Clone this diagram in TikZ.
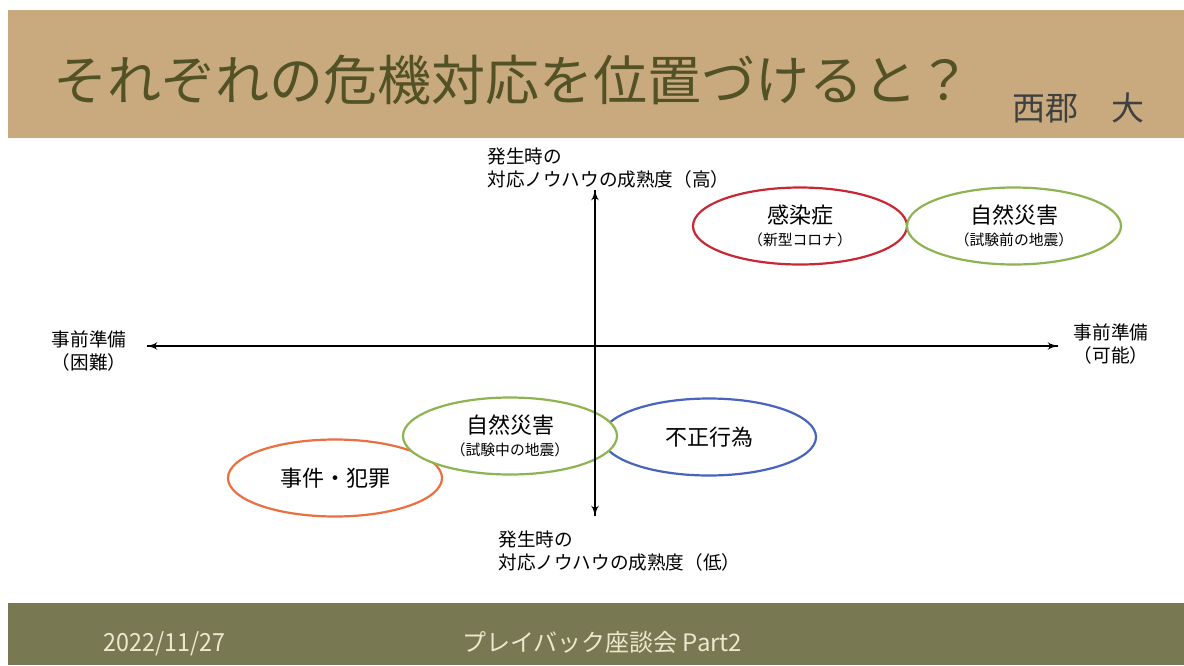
\documentclass[tikz,border=0pt]{standalone}
\usepackage{fontspec}
\setmainfont{Noto Sans CJK JP}
\usetikzlibrary{arrows,shapes.geometric}
\definecolor{bandtan}{RGB}{201,170,127}
\definecolor{titleolive}{RGB}{82,82,38}
\definecolor{footolive}{RGB}{120,120,82}
\definecolor{foottext}{RGB}{236,232,204}
\definecolor{ringred}{RGB}{200,40,52}
\definecolor{ringgreen}{RGB}{142,180,82}
\definecolor{ringorange}{RGB}{234,112,64}
\definecolor{ringblue}{RGB}{72,100,190}
\tikzset{
    ring/.style={ellipse, draw, line width=1.1pt, fill=white,
        minimum width=214pt*0.5, minimum height=77pt*0.5, inner sep=0pt, align=center},
    axislabel/.style={align=left, font=\fontsize{9.3}{11.5}\selectfont, inner sep=0pt},
    sidelabel/.style={align=center, font=\fontsize{9.3}{11.5}\selectfont, inner sep=0pt}
}
\newcommand{\mainword}[1]{{\fontsize{11}{13}\selectfont #1}}
\newcommand{\subword}[1]{{\fontsize{7.4}{9}\selectfont #1}}

\begin{document}
\begin{tikzpicture}[x=0.5pt, y=-0.5pt]
    \useasboundingbox [fill=white] (0, 0) rectangle (1184, 665);
    % header and footer
    \fill [bandtan] (8, 10) rectangle (1184, 138);
    \fill [footolive] (8, 603) rectangle (1184, 665);
    \node [anchor=west, text=titleolive, font=\fontsize{27}{30}\selectfont] (Title) at (46, 80)
        {それぞれの危機対応を位置づけると？};
    \node [anchor=east, text=black!75, font=\fontsize{16.5}{18}\selectfont] (Author) at (1152, 108)
        {西郡　大};
    \node [anchor=west, text=foottext, font=\fontsize{12.5}{14}\selectfont, xscale=0.93, transform shape] (Date) at (97, 644)
        {2022/11/27};
    \node [anchor=west, text=foottext, font=\fontsize{12}{14}\selectfont] (Event) at (455, 642)
        {プレイバック座談会 Part2};
    % ellipses
    \node [ring, draw=ringorange] (Jiken) at (335, 478) {\mainword{事件・犯罪}};
    \node [ring, draw=ringblue] (Fusei) at (709, 437) {\mainword{不正行為}};
    \node [ring, draw=ringgreen] (SaigaiB) at (510, 436)
        {\mainword{自然災害}\\[-1pt]\subword{（試験中の地震）}};
    \node [ring, draw=ringred] (Kansen) at (800, 226)
        {\mainword{感染症}\\[-1pt]\subword{（新型コロナ）}};
    \node [ring, draw=ringgreen] (SaigaiA) at (1014, 226)
        {\mainword{自然災害}\\[-1pt]\subword{（試験前の地震）}};
    % axes
    \coordinate (Top) at (595, 190);
    \coordinate (Bottom) at (595, 516);
    \coordinate (Left) at (147, 346);
    \coordinate (Right) at (1058, 346);
    \draw [-latex', line width=0.8pt] (Bottom) -- (Top);
    \draw [-latex', line width=0.8pt] (Top) -- (Bottom);
    \draw [-latex', line width=0.8pt] (Right) -- (Left);
    \draw [-latex', line width=0.8pt] (Left) -- (Right);
    % axis labels
    \node [axislabel, anchor=north west] (High) at (487, 147)
        {発生時の\\対応ノウハウの成熟度（高）};
    \node [axislabel, anchor=north west] (Low) at (498, 530)
        {発生時の\\対応ノウハウの成熟度（低）};
    \node [sidelabel] (Hard) at (89, 351) {事前準備\\（困難）};
    \node [sidelabel] (Easy) at (1111, 344) {事前準備\\（可能）};
\end{tikzpicture}
\end{document}
